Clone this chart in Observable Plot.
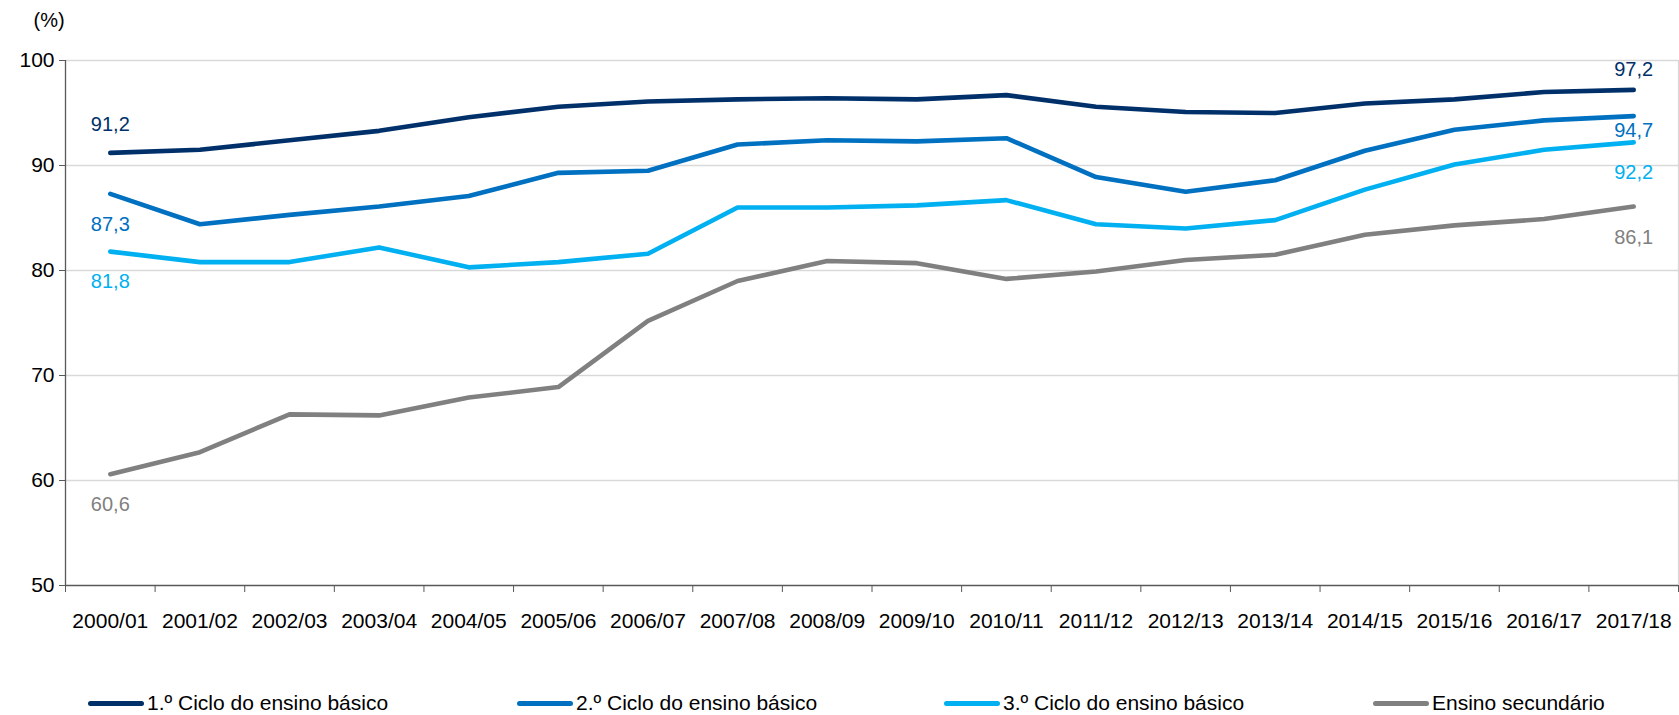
<!DOCTYPE html>
<html>
<head>
<meta charset="utf-8">
<script src="https://cdn.jsdelivr.net/npm/d3@7"></script>
<script src="https://cdn.jsdelivr.net/npm/@observablehq/plot@0.6"></script>
<style>
  html, body { margin: 0; padding: 0; background: #fff; }
  body { width: 1679px; height: 715px; position: relative; overflow: hidden; font-family: "Liberation Sans", Arial, sans-serif; }
  #chart { position: absolute; left: 0; top: 0; }
  #legend { position: absolute; left: 0; top: 690px; width: 1679px; height: 26px; }
  .item { position: absolute; top: 0; height: 26px; display: flex; align-items: center; font-size: 21px; color: #000; white-space: nowrap; }
  .sw { width: 56px; height: 5px; border-radius: 3px; margin-right: 3px; }
</style>
</head>
<body>
<div id="chart"></div>
<div id="legend"></div>
<script>
const years = ["2000/01","2001/02","2002/03","2003/04","2004/05","2005/06","2006/07","2007/08","2008/09","2009/10","2010/11","2011/12","2012/13","2013/14","2014/15","2015/16","2016/17","2017/18"];
const seriesNames = ["1.º Ciclo do ensino básico","2.º Ciclo do ensino básico","3.º Ciclo do ensino básico","Ensino secundário"];
const ciclo1 = [91.2, 91.5, 92.4, 93.3, 94.6, 95.6, 96.1, 96.3, 96.4, 96.3, 96.7, 95.6, 95.1, 95.0, 95.9, 96.3, 97.0, 97.2];
const ciclo2 = [87.3, 84.4, 85.3, 86.1, 87.1, 89.3, 89.5, 92.0, 92.4, 92.3, 92.6, 88.9, 87.5, 88.6, 91.4, 93.4, 94.3, 94.7];
const ciclo3 = [81.8, 80.8, 80.8, 82.2, 80.3, 80.8, 81.6, 86.0, 86.0, 86.2, 86.7, 84.4, 84.0, 84.8, 87.7, 90.1, 91.5, 92.2];
const secundario = [60.6, 62.7, 66.3, 66.2, 67.9, 68.9, 75.2, 79.0, 80.9, 80.7, 79.2, 79.9, 81.0, 81.5, 83.4, 84.3, 84.9, 86.1];
const yTicks = [50, 60, 70, 80, 90, 100];
const colors = ["#00306A", "#0070C0", "#00B0F0", "#808080"];

const allValues = [ciclo1, ciclo2, ciclo3, secundario];
const data = [];
allValues.forEach((vals, s) => vals.forEach((v, i) => data.push({i, year: years[i], v, s: seriesNames[s]})));

// end labels: first and last point of each series, offset above / below the line
const firstDy = [-28, 31, 30, 30];
const lastDy = [-20, 14, 30, 31];
const labelMarks = [];
allValues.forEach((vals, s) => {
  const n = vals.length - 1;
  [[0, firstDy[s]], [n, lastDy[s]]].forEach(([i, dy]) => {
    labelMarks.push(Plot.text([{i, v: vals[i], s: seriesNames[s]}], {
      x: "i", y: "v", fill: "s", dy, fontSize: 20,
      text: d => String(d.v.toFixed(1)).replace(".", ",")
    }));
  });
});

const boundaries = d3.range(-0.5, years.length, 1);
const fontFam = "Liberation Sans, Arial, sans-serif";

const chart = Plot.plot({
  width: 1679,
  height: 650,
  marginLeft: 65,
  marginRight: 1,
  marginTop: 60,
  marginBottom: 65,
  style: { fontFamily: fontFam, fontSize: "21px", color: "#000", background: "#fff" },
  x: { type: "linear", domain: [-0.5, years.length - 0.5], axis: null, label: null },
  y: { domain: [50, 100], axis: null, label: null },
  color: { domain: seriesNames, range: colors },
  marks: [
    Plot.gridY(yTicks.filter(d => d > 50), { stroke: "#D9D9D9", strokeOpacity: 1, strokeWidth: 1.3 }),
    Plot.ruleX([years.length - 0.5], { stroke: "#D9D9D9", strokeWidth: 1.3 }),
    Plot.axisY(yTicks, { tickSize: 6, tickPadding: 5, stroke: "#595959", fontSize: 21, label: null, tickFormat: d => String(d) }),
    Plot.ruleX([-0.5], { stroke: "#595959", strokeWidth: 1.3 }),
    Plot.ruleY([50], { stroke: "#595959", strokeWidth: 1.3 }),
    Plot.axisX(boundaries, { tickSize: 7, stroke: "#595959", label: null, tickFormat: () => "" }),
    Plot.axisX(d3.range(years.length), { tickSize: 0, tickPadding: 28, fontSize: 21, label: null, tickFormat: i => years[i] }),
    Plot.line(data, { x: "i", y: "v", z: "s", stroke: "s", strokeWidth: 4.6, strokeLinecap: "round", strokeLinejoin: "round" }),
    ...labelMarks,
    Plot.text(["(%)"], { frameAnchor: "top-left", dx: -32, dy: -48, fontSize: 20, textAnchor: "start", fill: "#000" })
  ]
});
document.getElementById("chart").appendChild(chart);

const legend = document.getElementById("legend");
const legendX = [88, 517, 944, 1373];
seriesNames.forEach((name, k) => {
  const item = document.createElement("div");
  item.className = "item";
  item.style.left = legendX[k] + "px";
  const sw = document.createElement("span");
  sw.className = "sw";
  sw.style.background = colors[k];
  item.appendChild(sw);
  const t = document.createElement("span");
  t.textContent = name;
  item.appendChild(t);
  legend.appendChild(item);
});
</script>
</body>
</html>
